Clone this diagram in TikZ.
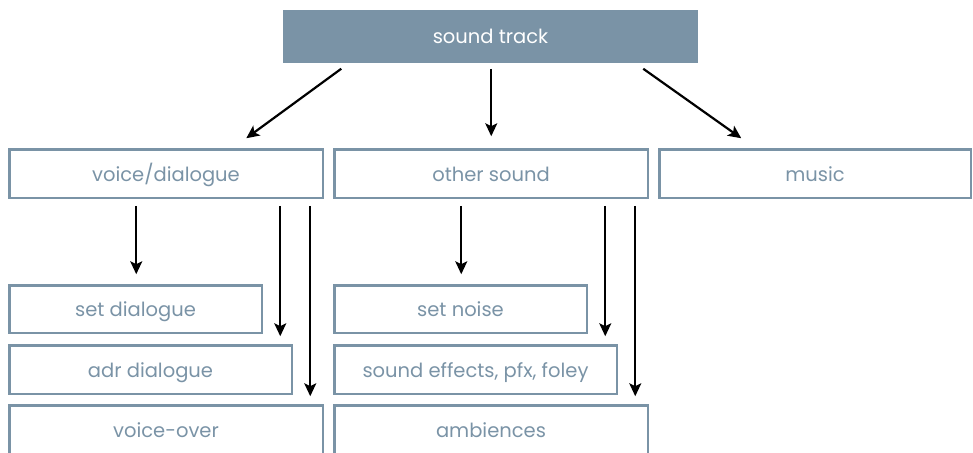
\documentclass[tikz,border=0pt]{standalone}
\usepackage{fontspec}
\setmainfont{Poppins}
\usetikzlibrary{arrows.meta}
\definecolor{slate}{HTML}{7A93A6}
% boxes: placed by their outer top-left corner, sized by outer extent
\newcommand\boxat[7]{%
  \node[#1,minimum width={#5-#3-2.5pt},minimum height={#6-#4-2.5pt}]
    (#2) at (#3+1.25,#4+1.25) {#7};}
\begin{document}
\begin{tikzpicture}[x=1pt,y=-1pt,
  box/.style={draw=slate,line width=2.5pt,anchor=north west,inner sep=0pt,
    outer sep=0pt,text=slate,font=\fontsize{19.5}{22}\selectfont,
    text height=17pt,text depth=2pt},
  topbox/.style={box,fill=slate,text=white},
  arr/.style={line width=2.2pt,-{Stealth[length=13pt,width=12pt,inset=3pt]}}]
\clip (0,0) rectangle (973,452);
\useasboundingbox (0,0) rectangle (973,452);

\boxat{topbox}{st}{283}{10}{698}{63}{sound track}
\boxat{box}{vd}{8}{148}{324}{199}{voice/dialogue}
\boxat{box}{os}{333}{148}{649}{199}{other sound}
\boxat{box}{mu}{658}{148}{972}{199}{music}
\boxat{box}{sd}{8}{284}{263}{334}{set dialogue}
\boxat{box}{ad}{8}{344}{293}{395}{adr dialogue}
\boxat{box}{vo}{8}{404}{324}{455}{voice-over}
\boxat{box}{sn}{333}{284}{588}{334}{set noise}
\boxat{box}{se}{333}{344}{618}{395}{sound effects, pfx, foley}
\boxat{box}{am}{333}{404}{649}{455}{ambiences}

% top level branches
\draw[arr] ([xshift=57pt,yshift=-7pt]st.south west) -- ([xshift=237pt,yshift=11pt]vd.north west);
\draw[arr] ([xshift=207pt,yshift=-7pt]st.south west) -- ([xshift=157pt,yshift=13pt]os.north west);
\draw[arr] ([xshift=359pt,yshift=-7pt]st.south west) -- ([xshift=82pt,yshift=11pt]mu.north west);

% voice/dialogue branches
\draw[arr] ([xshift=127pt,yshift=-8pt]vd.south west) -- ([xshift=127pt,yshift=11pt]sd.north west);
\draw[arr] ([xshift=271pt,yshift=-8pt]vd.south west) -- ([xshift=271pt,yshift=9pt]ad.north west);
\draw[arr] ([xshift=301pt,yshift=-8pt]vd.south west) -- ([xshift=301pt,yshift=9pt]vo.north west);

% other sound branches
\draw[arr] ([xshift=127pt,yshift=-8pt]os.south west) -- ([xshift=127pt,yshift=11pt]sn.north west);
\draw[arr] ([xshift=271pt,yshift=-8pt]os.south west) -- ([xshift=271pt,yshift=9pt]se.north west);
\draw[arr] ([xshift=301pt,yshift=-8pt]os.south west) -- ([xshift=301pt,yshift=9pt]am.north west);
\end{tikzpicture}
\end{document}
